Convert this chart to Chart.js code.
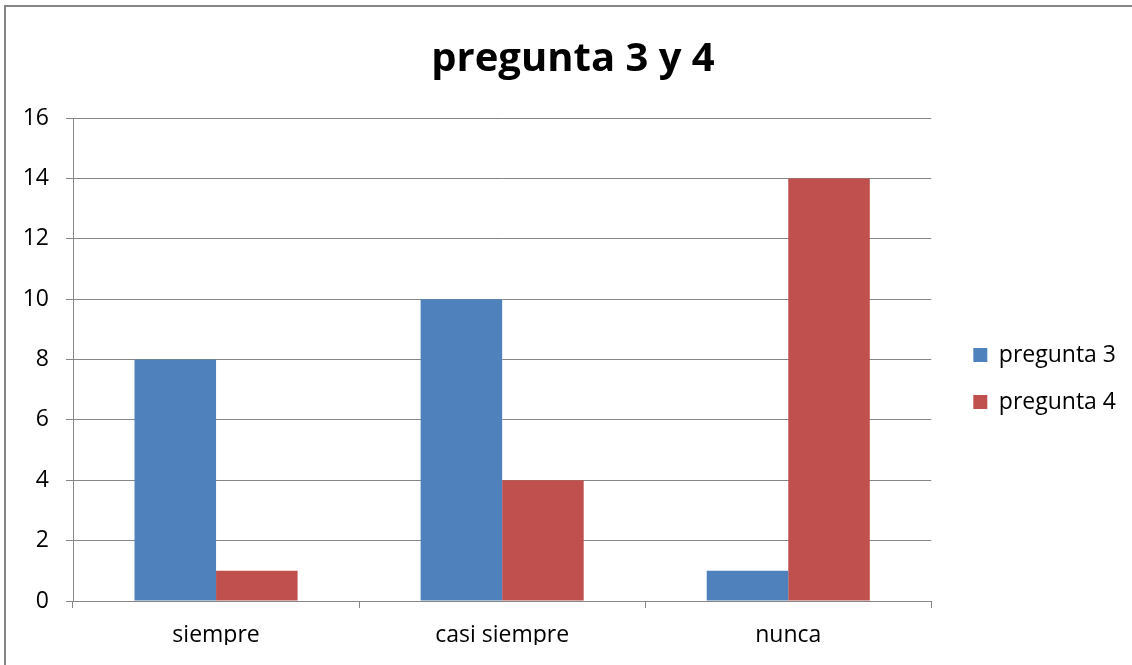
<!DOCTYPE html>
<html><head><meta charset="utf-8">
<script src="https://cdn.jsdelivr.net/npm/chart.js@4/dist/chart.umd.min.js"></script>
<style>html,body{margin:0;padding:0;background:#fff}#wrap{width:1132px;height:665px}</style>
</head><body><div id="wrap"><canvas id="c" width="1132" height="665"></canvas></div>
<script>
const categories = ["siempre", "casi siempre", "nunca"];
const pregunta3 = [8, 10, 1];
const pregunta4 = [1, 4, 14];
const seriesNames = ["pregunta 3", "pregunta 4"];
const titleText = "pregunta 3 y 4";

const frame = {
  id: 'frame',
  beforeDraw(chart) {
    const ctx = chart.ctx;
    ctx.save();
    ctx.fillStyle = '#fff';
    ctx.fillRect(0, 0, chart.width, chart.height);
    ctx.strokeStyle = '#868686';
    ctx.lineWidth = 2;
    ctx.strokeRect(5, 6, chart.width + 20, chart.height + 20);
    ctx.restore();
  }
};

const FONT = "'Open Sans', 'Liberation Sans', sans-serif";
new Chart(document.getElementById('c'), {
  type: 'bar',
  data: {
    labels: categories,
    datasets: [
      { label: seriesNames[0], data: pregunta3, backgroundColor: '#4f81bd', categoryPercentage: 0.57, barPercentage: 1 },
      { label: seriesNames[1], data: pregunta4, backgroundColor: '#c0504d', categoryPercentage: 0.57, barPercentage: 1 }
    ]
  },
  options: {
    responsive: false,
    animation: false,
    layout: { padding: { left: 20, right: 6, top: 0, bottom: 20 } },
    plugins: {
      title: { display: true, text: titleText, color: '#000', font: { family: FONT, size: 40, weight: 'bold' }, padding: { top: 36, bottom: 34 } },
      legend: {
        position: 'right',
        fullSize: false,
        title: { display: true, text: ' ', font: { family: FONT, size: 20 }, padding: { top: 7, bottom: 7 } },
        labels: { color: '#000', font: { family: FONT, size: 23 }, boxWidth: 14, boxHeight: 14, padding: 24 }
      },
      tooltip: { enabled: false }
    },
    scales: {
      y: {
        min: 0, max: 16,
        ticks: { stepSize: 2, color: '#000', font: { family: FONT, size: 23 }, padding: 17 },
        grid: { color: '#868686', tickLength: 7, drawTicks: true },
        border: { color: '#868686' },
        afterFit(s) { s.width = 53; }
      },
      y2: {
        position: 'right',
        display: true,
        ticks: { display: false },
        grid: { display: false },
        border: { display: false },
        afterFit(s) { s.width = 18; }
      },
      x: {
        ticks: { color: '#000', font: { family: FONT, size: 23 }, padding: 14 },
        grid: { offset: true, drawOnChartArea: false, color: '#868686', tickLength: 7 },
        border: { color: '#868686' },
        afterFit(s) { s.height = 44; }
      }
    }
  },
  plugins: [frame]
});
</script></body></html>
